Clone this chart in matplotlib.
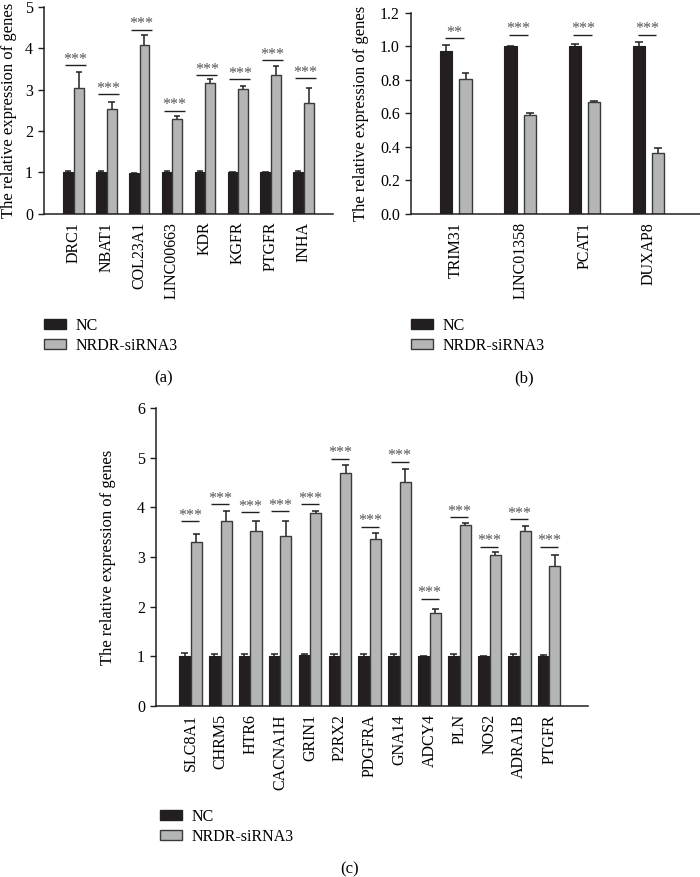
"""
Relative expression of genes after NRDR knockdown (NC vs NRDR-siRNA3),
three bar panels (a), (b), (c).
"""

import numpy as np
import matplotlib.pyplot as plt
from matplotlib.patches import Patch

plt.rcParams['font.family'] = ['Liberation Serif', 'DejaVu Serif']

NC_COLOR = '#231f20'
SI_COLOR = '#b4b6b5'
SI_EDGE = '#3a3a3a'
STAR_COLOR = '#555555'
FS = 11.5

# ---- panel (a) data ----
genes_a = ['DRC1', 'NBAT1', 'COL23A1', 'LINC00663', 'KDR', 'KGFR', 'PTGFR', 'INHA']
nc_a = [1.0, 1.0, 0.99, 1.0, 1.0, 1.0, 1.0, 1.0]
nc_err_a = [0.02, 0.02, 0.0, 0.02, 0.02, 0.01, 0.01, 0.04]
si_a = [3.05, 2.53, 4.08, 2.29, 3.16, 3.02, 3.35, 2.68]
si_err_a = [0.38, 0.16, 0.25, 0.08, 0.1, 0.06, 0.22, 0.36]
sig_a = [3.6, 2.89, 4.45, 2.49, 3.36, 3.26, 3.72, 3.27]
stars_a = ['***'] * 8

# ---- panel (b) data ----
genes_b = ['TRIM31', 'LINC01358', 'PCAT1', 'DUXAP8']
nc_b = [0.975, 1.0, 1.004, 1.004]
nc_err_b = [0.033, 0.003, 0.012, 0.024]
si_b = [0.806, 0.592, 0.666, 0.362]
si_err_b = [0.032, 0.012, 0.008, 0.033]
sig_b = [1.05, 1.07, 1.07, 1.07]
stars_b = ['**', '***', '***', '***']

# ---- panel (c) data ----
genes_c = ['SLC8A1', 'CHRM5', 'HTR6', 'CACNA1H', 'GRIN1', 'P2RX2', 'PDGFRA',
           'GNA14', 'ADCY4', 'PLN', 'NOS2', 'ADRA1B', 'PTGFR']
nc_c = [1.0, 1.0, 1.0, 1.0, 1.02, 1.0, 1.0, 1.0, 1.0, 1.0, 1.0, 1.0, 1.0]
nc_err_c = [0.075, 0.045, 0.055, 0.045, 0.035, 0.045, 0.045, 0.045, 0.01, 0.045, 0.01, 0.045, 0.025]
si_c = [3.3, 3.72, 3.52, 3.42, 3.88, 4.69, 3.37, 4.52, 1.88, 3.65, 3.04, 3.52, 2.82]
si_err_c = [0.16, 0.2, 0.21, 0.31, 0.05, 0.16, 0.11, 0.25, 0.07, 0.04, 0.07, 0.1, 0.22]
sig_c = [3.73, 4.07, 3.9, 3.92, 4.07, 4.98, 3.61, 4.92, 2.16, 3.81, 3.21, 3.77, 3.21]
stars_c = ['***'] * 13

YLABEL = 'The relative expression of genes'


def bar_panel(fig, rect, genes, nc, nc_err, si, si_err, sig, stars,
              xlim, off, width, span, yticks, ylabels, label_x):
    ax = fig.add_axes(rect)
    x = np.arange(len(genes))

    ax.bar(x - off, nc, width, color=NC_COLOR, edgecolor=NC_COLOR, linewidth=0.8, zorder=2)
    ax.bar(x + off, si, width, color=SI_COLOR, edgecolor=SI_EDGE, linewidth=1.0, zorder=2)

    # only the upper half of the error bars is visible
    for xs, ys, es in ((x - off, nc, nc_err), (x + off, si, si_err)):
        ys = np.asarray(ys)
        es = np.asarray(es)
        ax.vlines(xs, ys, ys + es, color=NC_COLOR, linewidth=1.1, zorder=1)
        ax.hlines(ys + es, xs - width * 0.32, xs + width * 0.32, color=NC_COLOR, linewidth=1.1, zorder=1)

    # significance bars
    for xi, yi, s in zip(x, sig, stars):
        ax.hlines(yi, xi + span[0], xi + span[1], color=NC_COLOR, linewidth=1.0)
        ax.annotate(s, (xi + (span[0] + span[1]) / 2, yi), xytext=(0, -2),
                    textcoords='offset points', ha='center', va='bottom',
                    fontsize=11.5, color=STAR_COLOR)

    ax.set_xlim(*xlim)
    ax.set_ylim(yticks[0], yticks[-1])
    ax.set_yticks(yticks)
    ax.set_yticklabels(ylabels, fontsize=FS)
    ax.set_xticks(x)
    ax.set_xticklabels(genes, rotation=90, fontsize=FS)
    ax.tick_params(axis='x', length=0, pad=6)
    ax.tick_params(axis='y', length=4, width=1, pad=4, color=NC_COLOR)

    for side in ['top', 'right']:
        ax.spines[side].set_visible(False)
    for side in ['left', 'bottom']:
        ax.spines[side].set_linewidth(1.1)
        ax.spines[side].set_color(NC_COLOR)

    ax.set_ylabel(YLABEL, fontsize=12)
    ax.yaxis.set_label_coords(label_x, 0.5)
    return ax


fig = plt.figure(figsize=(7, 8.77), dpi=100)
W, H = 700.0, 877.0

bar_panel(fig, [44 / W, 1 - 213.5 / H, 289 / W, 206.5 / H],
          genes_a, nc_a, nc_err_a, si_a, si_err_a, sig_a, stars_a,
          xlim=(-0.9, 7.9), off=0.16, width=0.3, span=(-0.26, 0.38),
          yticks=[0, 1, 2, 3, 4, 5], ylabels=['0', '1', '2', '3', '4', '5'],
          label_x=-0.093)

bar_panel(fig, [411 / W, 1 - 213.5 / H, 289 / W, 200.5 / H],
          genes_b, nc_b, nc_err_b, si_b, si_err_b, sig_b, stars_b,
          xlim=(-0.7, 3.8), off=0.15, width=0.19, span=(-0.17, 0.12),
          yticks=[0, 0.2, 0.4, 0.6, 0.8, 1.0, 1.2],
          ylabels=['0.0', '0.2', '0.4', '0.6', '0.8', '1.0', '1.2'],
          label_x=-0.145)

bar_panel(fig, [156 / W, 1 - 706 / H, 432 / W, 298 / H],
          genes_c, nc_c, nc_err_c, si_c, si_err_c, sig_c, stars_c,
          xlim=(-1.15, 13.3), off=0.195, width=0.37, span=(-0.3, 0.3),
          yticks=[0, 1, 2, 3, 4, 5, 6], ylabels=['0', '1', '2', '3', '4', '5', '6'],
          label_x=-0.092)

# legends
handles = [Patch(facecolor=NC_COLOR, edgecolor=NC_COLOR),
           Patch(facecolor=SI_COLOR, edgecolor=SI_EDGE, linewidth=1.0)]
labels = ['NC', 'NRDR-siRNA3']
for lx, ly in [(44, 318), (411, 318), (160, 809)]:
    fig.legend(handles, labels, loc='upper left', bbox_to_anchor=(lx / W, 1 - ly / H),
               frameon=False, borderpad=0, borderaxespad=0, handlelength=1.4,
               handleheight=0.6, handletextpad=0.6, labelspacing=0.25, fontsize=FS)

# panel letters
fig.text(164 / W, 1 - 378 / H, '(a)', ha='center', va='center', fontsize=12)
fig.text(524 / W, 1 - 378 / H, '(b)', ha='center', va='center', fontsize=12)
fig.text(350 / W, 1 - 869 / H, '(c)', ha='center', va='center', fontsize=12)

plt.savefig('out.png', dpi=100)
